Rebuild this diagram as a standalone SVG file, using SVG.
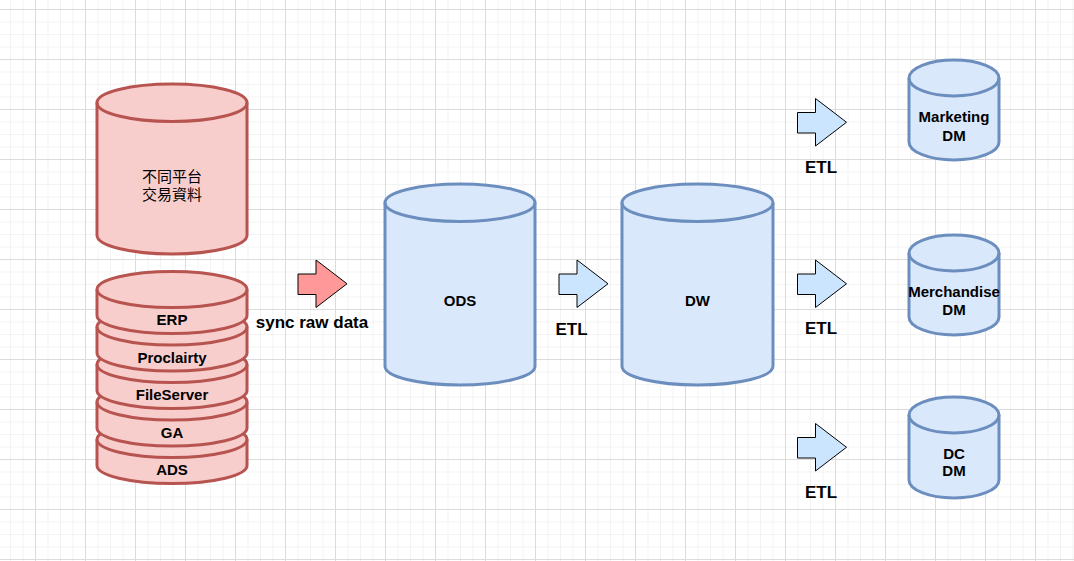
<svg xmlns="http://www.w3.org/2000/svg" width="1074" height="561" viewBox="0 0 1074 561">
<style>
.red{fill:#f8cecc;stroke:#b85450;stroke-width:3}
.blue{fill:#dae8fc;stroke:#6c8ebf;stroke-width:3}
.inner{fill:none}
.t{font-family:"Liberation Sans",Arial,sans-serif;font-weight:bold;text-anchor:middle;fill:#000}
.t15{font-size:15px}
.t17{font-size:17px}
.cjk{font-family:"Liberation Sans","Noto Sans CJK TC",sans-serif;font-size:15px;text-anchor:middle;fill:#000}
.arr{stroke:#000;stroke-width:1}
.ared{fill:#ff9999}
.ablue{fill:#cce5ff}
</style>
<defs>
<pattern id="grid" patternUnits="userSpaceOnUse" x="35" y="9" width="50" height="50">
<path d="M13 0V50M25.5 0V50M38 0V50M0 13H50M0 25.5H50M0 38H50" stroke="#f3f3f3" stroke-width="1" fill="none"/>
<path d="M0.5 0V50M0 0.5H50" stroke="#dcdcdc" stroke-width="1" fill="none"/>
</pattern>
<polygon id="arrow" points="0,14 18,14 18,0 49,23.75 18,47.5 18,34.5 0,34.5"/>
</defs>
<rect width="1074" height="561" fill="#ffffff"/>
<rect width="1074" height="561" fill="url(#grid)"/>

<g id="platforms">
<path class="red" d="M97,102.75 A75,18.75 0 0 1 247,102.75 L247,235.25 A75,18.75 0 0 1 97,235.25 Z"/>
<path class="red inner" d="M97,102.75 A75,18.75 0 0 0 247,102.75"/>
<text class="cjk" x="172" y="181.7">不同平台</text>
<text class="cjk" x="172" y="199.7">交易資料</text>
</g>

<g id="ads">
<path class="red" d="M97,439.5 A75,18 0 0 1 247,439.5 L247,465.5 A75,18 0 0 1 97,465.5 Z"/>
<path class="red inner" d="M97,439.5 A75,18 0 0 0 247,439.5"/>
<text class="t t15" x="172" y="475.3">ADS</text>
</g>
<g id="ga">
<path class="red" d="M97,402 A75,18 0 0 1 247,402 L247,428 A75,18 0 0 1 97,428 Z"/>
<path class="red inner" d="M97,402 A75,18 0 0 0 247,402"/>
<text class="t t15" x="172" y="437.8">GA</text>
</g>
<g id="fileserver">
<path class="red" d="M97,364.5 A75,18 0 0 1 247,364.5 L247,390.5 A75,18 0 0 1 97,390.5 Z"/>
<path class="red inner" d="M97,364.5 A75,18 0 0 0 247,364.5"/>
<text class="t t15" x="172" y="400.3">FileServer</text>
</g>
<g id="proclairty">
<path class="red" d="M97,327 A75,18 0 0 1 247,327 L247,353 A75,18 0 0 1 97,353 Z"/>
<path class="red inner" d="M97,327 A75,18 0 0 0 247,327"/>
<text class="t t15" x="172" y="362.8">Proclairty</text>
</g>
<g id="erp">
<path class="red" d="M97,289.5 A75,18 0 0 1 247,289.5 L247,315.5 A75,18 0 0 1 97,315.5 Z"/>
<path class="red inner" d="M97,289.5 A75,18 0 0 0 247,289.5"/>
<text class="t t15" x="172" y="325.3">ERP</text>
</g>

<g id="ods">
<path class="blue" d="M385,202.75 A75,18.75 0 0 1 535,202.75 L535,366.25 A75,18.75 0 0 1 385,366.25 Z"/>
<path class="blue inner" d="M385,202.75 A75,18.75 0 0 0 535,202.75"/>
<text class="t t15" x="460" y="306.3">ODS</text>
</g>
<g id="dw">
<path class="blue" d="M622,202.75 A75.5,18.75 0 0 1 773,202.75 L773,366.25 A75.5,18.75 0 0 1 622,366.25 Z"/>
<path class="blue inner" d="M622,202.75 A75.5,18.75 0 0 0 773,202.75"/>
<text class="t t15" x="697.5" y="306.3">DW</text>
</g>

<g id="marketing">
<path class="blue" d="M909,78 A45,18 0 0 1 999,78 L999,142 A45,18 0 0 1 909,142 Z"/>
<path class="blue inner" d="M909,78 A45,18 0 0 0 999,78"/>
<text class="t t15" x="954" y="122">Marketing</text>
<text class="t t15" x="954" y="140.5">DM</text>
</g>
<g id="merchandise">
<path class="blue" d="M909,253 A45,18 0 0 1 999,253 L999,317 A45,18 0 0 1 909,317 Z"/>
<path class="blue inner" d="M909,253 A45,18 0 0 0 999,253"/>
<text class="t t15" x="954" y="297">Merchandise</text>
<text class="t t15" x="954" y="314.6">DM</text>
</g>
<g id="dc">
<path class="blue" d="M909,415 A45,18 0 0 1 999,415 L999,480 A45,18 0 0 1 909,480 Z"/>
<path class="blue inner" d="M909,415 A45,18 0 0 0 999,415"/>
<text class="t t15" x="954" y="458.6">DC</text>
<text class="t t15" x="954" y="476">DM</text>
</g>

<g id="connectors">
<use href="#arrow" class="arr ared" x="298" y="260"/>
<text class="t t17" x="312" y="327.7">sync raw data</text>
<use href="#arrow" class="arr ablue" x="559" y="260"/>
<text class="t t17" x="571.5" y="335">ETL</text>
<use href="#arrow" class="arr ablue" x="797.5" y="98.5"/>
<text class="t t17" x="821" y="172.7">ETL</text>
<use href="#arrow" class="arr ablue" x="797.5" y="260"/>
<text class="t t17" x="821" y="334.3">ETL</text>
<use href="#arrow" class="arr ablue" x="797.5" y="423.5"/>
<text class="t t17" x="821" y="497.7">ETL</text>
</g>
</svg>
